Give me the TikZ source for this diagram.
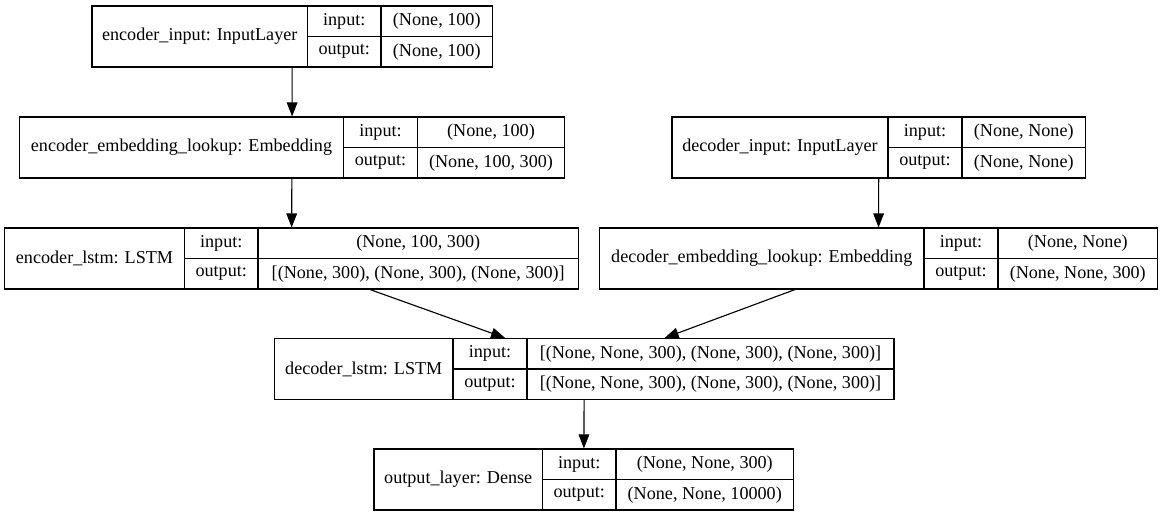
\documentclass[tikz,border=0pt]{standalone}
\usepackage{fontspec}
\setmainfont{Liberation Serif}
\usetikzlibrary{arrows.meta,fit}

\begin{document}
\begin{tikzpicture}[x=0.75pt,y=0.75pt,yscale=-1,xscale=1,
		line width=0.85pt,
		rec/.style={draw, inner sep=0pt, fit={#1}},
		txt/.style={inner sep=0.75pt, font=\fontsize{13.6}{16}\selectfont},
		flow/.style={-{Triangle[length=10.5pt,width=8pt]}}]
	\useasboundingbox (0,0) rectangle (1160,516);
	
	% encoder_input
	\node [rec={(92,6) (492.5,67)}] (encin) {};
	\draw (307.5,6) -- (307.5,67) (381,6) -- (381,67) (307.5,36.5) -- (492.5,36.5);
	\node [txt] (encinname) at (199.75,36.5) {encoder\_input: InputLayer};
	\node [txt] (encinin) at (344.25,21.25) {input:};
	\node [txt] (encinout) at (344.25,51.75) {output:};
	\node [txt] (encininv) at (436.75,21.25) {(None, 100)};
	\node [txt] (encinoutv) at (436.75,51.75) {(None, 100)};
	
	% encoder_embedding_lookup
	\node [rec={(19.5,117) (564.5,178)}] (encemb) {};
	\draw (343.5,117) -- (343.5,178) (417.5,117) -- (417.5,178) (343.5,147.5) -- (564.5,147.5);
	\node [txt] (encembname) at (181.5,147.5) {encoder\_embedding\_lookup: Embedding};
	\node [txt] (encembin) at (380.5,132.25) {input:};
	\node [txt] (encembout) at (380.5,162.75) {output:};
	\node [txt] (encembinv) at (491,132.25) {(None, 100)};
	\node [txt] (encemboutv) at (491,162.75) {(None, 100, 300)};
	
	% decoder_input
	\node [rec={(672,117) (1085.5,178)}] (decin) {};
	\draw (888,117) -- (888,178) (962,117) -- (962,178) (888,147.5) -- (1085.5,147.5);
	\node [txt] (decinname) at (780,147.5) {decoder\_input: InputLayer};
	\node [txt] (decinin) at (925,132.25) {input:};
	\node [txt] (decinout) at (925,162.75) {output:};
	\node [txt] (decininv) at (1023.75,132.25) {(None, None)};
	\node [txt] (decinoutv) at (1023.75,162.75) {(None, None)};
	
	% encoder_lstm
	\node [rec={(4.5,228) (578.5,289)}] (elstm) {};
	\draw (184.5,228) -- (184.5,289) (258,228) -- (258,289) (184.5,258.5) -- (578.5,258.5);
	\node [txt] (elstmname) at (94.5,258.5) {encoder\_lstm: LSTM};
	\node [txt] (elstmin) at (221.25,243.25) {input:};
	\node [txt] (elstmout) at (221.25,273.75) {output:};
	\node [txt] (elstminv) at (418.25,243.25) {(None, 100, 300)};
	\node [txt] (elstmoutv) at (418.25,273.75) {[(None, 300), (None, 300), (None, 300)]};
	
	% decoder_embedding_lookup
	\node [rec={(599.5,228) (1157.5,289)}] (demb) {};
	\draw (924,228) -- (924,289) (998,228) -- (998,289) (924,258.5) -- (1157.5,258.5);
	\node [txt] (dembname) at (761.75,258.5) {decoder\_embedding\_lookup: Embedding};
	\node [txt] (dembin) at (961,243.25) {input:};
	\node [txt] (dembout) at (961,273.75) {output:};
	\node [txt] (dembinv) at (1077.75,243.25) {(None, None)};
	\node [txt] (demboutv) at (1077.75,273.75) {(None, None, 300)};
	
	% decoder_lstm
	\node [rec={(274.5,338.5) (894,399.5)}] (dlstm) {};
	\draw (453,338.5) -- (453,399.5) (527,338.5) -- (527,399.5) (453,369) -- (894,369);
	\node [txt] (dlstmname) at (363.75,369) {decoder\_lstm: LSTM};
	\node [txt] (dlstmin) at (490,353.75) {input:};
	\node [txt] (dlstmout) at (490,384.25) {output:};
	\node [txt] (dlstminv) at (710.5,353.75) {[(None, None, 300), (None, 300), (None, 300)]};
	\node [txt] (dlstmoutv) at (710.5,384.25) {[(None, None, 300), (None, 300), (None, 300)]};
	
	% output_layer
	\node [rec={(374,449) (793.5,510)}] (outl) {};
	\draw (542.5,449) -- (542.5,510) (616,449) -- (616,510) (542.5,479.5) -- (793.5,479.5);
	\node [txt] (outlname) at (458.25,479.5) {output\_layer: Dense};
	\node [txt] (outlin) at (579.25,464.25) {input:};
	\node [txt] (outlout) at (579.25,494.75) {output:};
	\node [txt] (outlinv) at (704.75,464.25) {(None, None, 300)};
	\node [txt] (outloutv) at (704.75,494.75) {(None, None, 10000)};
	
	% edges
	\draw [flow] (encin) -- (encemb);
	\draw [flow] (encemb) -- (elstm);
	\draw [flow] (decin) -- (demb);
	\draw [flow] ([xshift=58.9pt]elstm.south) -- ([xshift=-59.4pt]dlstm.north);
	\draw [flow] ([xshift=-62.6pt]demb.south) -- ([xshift=60.3pt]dlstm.north);
	\draw [flow] (dlstm) -- (outl);
	
\end{tikzpicture}
\end{document}
